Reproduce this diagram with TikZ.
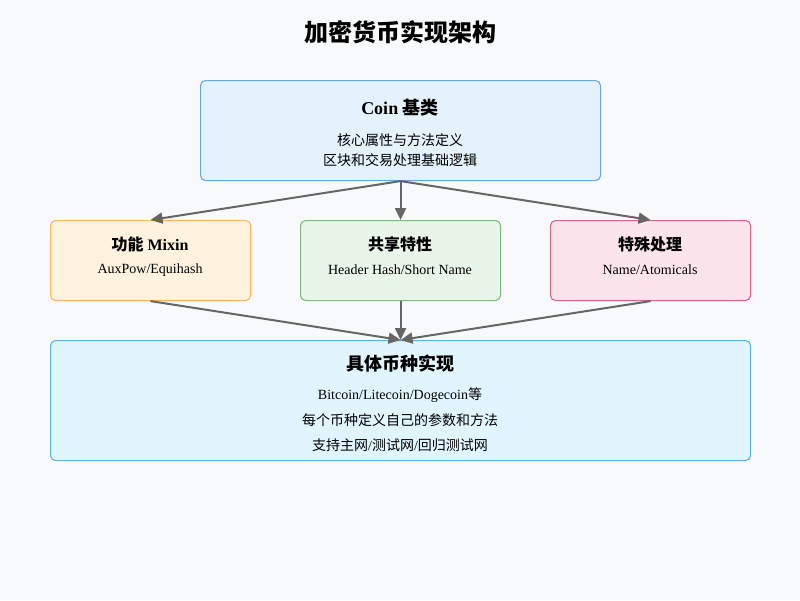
\documentclass[tikz,border=0pt]{standalone}
\usepackage{fontspec}
\setmainfont{Liberation Serif}
\newfontfamily\cjk{Noto Sans CJK SC}
\usetikzlibrary{arrows.meta}
\newcommand{\zh}[1]{{\cjk #1}}
\definecolor{bg}{HTML}{F8F9FA}
\definecolor{coinfill}{HTML}{E3F2FD}\definecolor{coinline}{HTML}{6AA8E0}
\definecolor{mixfill}{HTML}{FFF3E0}\definecolor{mixline}{HTML}{FFB45A}
\definecolor{shfill}{HTML}{E8F5E9}\definecolor{shline}{HTML}{7EBB80}
\definecolor{spfill}{HTML}{FCE4EC}\definecolor{spline}{HTML}{D9658F}
\definecolor{imfill}{HTML}{E1F5FE}\definecolor{imline}{HTML}{5BB5E8}
\definecolor{arr}{HTML}{666666}
\tikzset{
  box/.style={draw, rounded corners=5pt, line width=1.1pt, inner sep=0pt, anchor=north west},
  ttl/.style={font=\fontsize{18}{20}\selectfont\bfseries, inner sep=0pt},
  sub/.style={font=\fontsize{14}{16}\selectfont, inner sep=0pt},
  conn/.style={draw=arr, line width=2pt, -{Triangle[length=12pt,width=11pt]}},
}
\begin{document}
\begin{tikzpicture}[x=1pt,y=-1pt]
\fill[bg] (0,0) rectangle (800,600);
\useasboundingbox (0,0) rectangle (800,600);
\node[inner sep=0pt, font=\fontsize{24}{26}\selectfont\bfseries] (title) at (400,32) {\zh{加密货币实现架构}};
% boxes
\node[box, fill=coinfill, draw=coinline, minimum width=400pt, minimum height=100pt] (coin) at (200,80) {};
\node[box, fill=mixfill, draw=mixline, minimum width=200pt, minimum height=80pt] (mixin) at (50,220) {};
\node[box, fill=shfill, draw=shline, minimum width=200pt, minimum height=80pt] (shared) at (300,220) {};
\node[box, fill=spfill, draw=spline, minimum width=200pt, minimum height=80pt] (special) at (550,220) {};
\node[box, fill=imfill, draw=imline, minimum width=700pt, minimum height=120pt] (impl) at (50,340) {};
% texts
\node[ttl] (coint) at (400,108) {Coin \zh{基类}};
\node[sub] (coins1) at (400,140) {\zh{核心属性与方法定义}};
\node[sub] (coins2) at (400,160) {\zh{区块和交易处理基础逻辑}};
\node[ttl, font=\fontsize{16}{18}\selectfont\bfseries] (mixt) at (150,244) {\zh{功能} Mixin};
\node[sub] (mixs) at (150,270) {AuxPow/Equihash};
\node[ttl, font=\fontsize{16}{18}\selectfont\bfseries] (sht) at (400,244) {\zh{共享特性}};
\node[sub] (shs) at (400,270) {Header Hash/Short Name};
\node[ttl, font=\fontsize{16}{18}\selectfont\bfseries] (spt) at (650,244) {\zh{特殊处理}};
\node[sub] (sps) at (650,270) {Name/Atomicals};
\node[ttl] (imt) at (400,364) {\zh{具体币种实现}};
\node[sub] (ims1) at (400,395) {Bitcoin/Litecoin/Dogecoin\zh{等}};
\node[sub] (ims2) at (400,420) {\zh{每个币种定义自己的参数和方法}};
\node[sub] (ims3) at (400,445) {\zh{支持主网}/\zh{测试网}/\zh{回归测试网}};
% connectors
\draw[conn] (coin.south) -- (mixin.north);
\draw[conn] (coin.south) -- (shared.north);
\draw[conn] (coin.south) -- (special.north);
\draw[conn] (mixin.south) -- (impl.north);
\draw[conn] (shared.south) -- (impl.north);
\draw[conn] (special.south) -- (impl.north);
\end{tikzpicture}
\end{document}
